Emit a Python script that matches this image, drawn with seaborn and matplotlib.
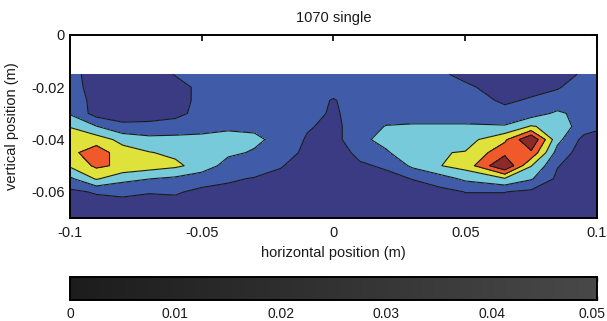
import numpy as np
import matplotlib
matplotlib.use("Agg")
import matplotlib as mpl
import matplotlib.pyplot as plt
import seaborn as sns
from matplotlib.colors import ListedColormap, BoundaryNorm, LinearSegmentedColormap, Normalize

# ---------------- data ----------------
x_pos = [-0.1, -0.09, -0.08, -0.07, -0.06, -0.05, -0.04, -0.03, -0.02, -0.01, 0.0,
         0.01, 0.02, 0.03, 0.04, 0.05, 0.065, 0.075, 0.085, 0.095, 0.1]
y_pos = [-0.015, -0.02, -0.025, -0.03, -0.035, -0.04, -0.045, -0.05, -0.055, -0.06, -0.065, -0.07]

z_015 = [1.3, 0.6, 0.5, 0.6, 1.05, 1.3, 1.3, 1.35, 1.4, 1.4, 1.4, 1.45, 1.5, 1.5, 1.1, 0.85, 0.6, 0.6, 0.7, 1.1, 1.3]
z_020 = [1.3, 0.7, 0.5, 0.5, 0.7, 1.2, 1.3, 1.35, 1.4, 1.4, 1.3, 1.4, 1.45, 1.5, 1.35, 1.1, 0.75, 0.8, 0.95, 1.3, 1.3]
z_025 = [1.35, 0.8, 0.5, 0.5, 0.7, 1.2, 1.3, 1.35, 1.4, 1.3, 0.95, 1.35, 1.45, 1.5, 1.45, 1.3, 0.9, 1.07, 1.25, 1.4, 1.35]
z_030 = [1.9, 0.6, 0.6, 0.6, 0.75, 1.3, 1.4, 1.45, 1.4, 1.25, 0.9, 1.3, 1.5, 1.6, 1.6, 1.6, 1.2, 1.5, 2.2, 1.6, 1.3]
z_035 = [2.95, 2.05, 1.2, 1.25, 1.4, 1.6, 1.8, 1.8, 1.5, 1.1, 0.75, 1.5, 2.05, 2.1, 2.1, 2.1, 2.1, 3.1, 2.6, 1.5, 1.1]
z_040 = [3.6, 3.5, 2.7, 2.3, 2.3, 2.3, 2.4, 2.2, 1.7, 0.9, 0.65, 1.7, 2.4, 2.6, 2.6, 2.6, 3.8, 6.0, 2.3, 0.7, 0.8]
z_045 = [3.7, 4.6, 3.4, 3.05, 2.8, 2.7, 2.2, 1.9, 1.5, 0.75, 0.6, 1.2, 1.85, 2.8, 2.95, 3.05, 4.7, 4.8, 1.6, 0.5, 0.6]
z_050 = [3.15, 4.2, 3.8, 3.5, 3.2, 2.6, 1.6, 1.4, 1.05, 0.65, 0.55, 0.9, 1.1, 2.2, 2.95, 3.4, 6.0, 3.05, 1.05, 0.5, 0.55]
z_055 = [1.8, 3.1, 2.3, 2.02, 1.8, 1.4, 1.1, 0.95, 0.8, 0.6, 0.5, 0.7, 0.8, 1.02, 1.5, 2.2, 2.9, 2.1, 0.8, 0.5, 0.5]
z_060 = [0.8, 1.1, 1.2, 1.05, 1.1, 0.8, 0.8, 0.8, 0.7, 0.55, 0.5, 0.6, 0.6, 0.7, 0.7, 1.02, 1.02, 0.8, 0.6, 0.45, 0.45]
z_065 = [0.5, 0.6, 0.7, 0.7, 0.7, 0.6, 0.6, 0.6, 0.6, 0.5, 0.45, 0.5, 0.5, 0.55, 0.6, 0.7, 0.7, 0.6, 0.5, 0.45, 0.4]
z_070 = [0.4, 0.4, 0.5, 0.5, 0.5, 0.5, 0.5, 0.5, 0.5, 0.45, 0.4, 0.45, 0.45, 0.45, 0.5, 0.5, 0.5, 0.5, 0.45, 0.4, 0.4]

levels = [0, 1, 2, 3, 4, 5, 7]
band_colors = ["#3b3b84", "#405ca8", "#76cada", "#dee23a", "#f05a2a", "#8c2a2a"]

x_ticks = [-0.1, -0.05, 0, 0.05, 0.1]
x_ticklabels = ["-0.1", "-0.05", "0", "0.05", "0.1"]
y_ticks = [0, -0.02, -0.04, -0.06]
y_ticklabels = ["0", "-0.02", "-0.04", "-0.06"]
cb_ticks = [0, 0.01, 0.02, 0.03, 0.04, 0.05]
cb_ticklabels = ["0", "0.01", "0.02", "0.03", "0.04", "0.05"]

# ---------------- style ----------------
sns.set_theme(style="white")
plt.rcParams["font.family"] = ["Liberation Sans", "DejaVu Sans"]
FS = 10.5
TXT = "#1a1a1a"

Z = np.array([z_015, z_020, z_025, z_030, z_035, z_040,
              z_045, z_050, z_055, z_060, z_065, z_070])
X, Y = np.meshgrid(np.array(x_pos), np.array(y_pos))

fig = plt.figure(figsize=(6.07, 3.21), dpi=100)
fig.patch.set_facecolor("white")
ax = fig.add_axes([0.1153, 0.3209, 0.8682, 0.5701])
ax.set_facecolor("white")

cmap = ListedColormap(band_colors)
norm = BoundaryNorm(levels, cmap.N)
ax.contourf(X, Y, Z, levels=levels, cmap=cmap, norm=norm)
ax.contour(X, Y, Z, levels=levels[1:-1], colors="#1a1a1a", linewidths=0.8)

ax.set_xlim(-0.1, 0.1)
ax.set_ylim(-0.07, 0)
ax.set_xticks(x_ticks)
ax.set_xticklabels(x_ticklabels)
ax.set_yticks(y_ticks)
ax.set_yticklabels(y_ticklabels)
ax.tick_params(direction="in", length=4, width=1.2, colors="black",
               top=True, right=True, labelsize=FS, labelcolor=TXT)
ax.tick_params(axis="x", pad=6)
ax.tick_params(axis="y", pad=4)
for s in ax.spines.values():
    s.set_color("black")
    s.set_linewidth(1.4)
ax.set_xlabel("horizontal position (m)", fontsize=FS, color=TXT)
ax.xaxis.set_label_coords(0.5, -0.155)
ax.set_ylabel("vertical position (m)", fontsize=FS, color=TXT)
ax.yaxis.set_label_coords(-0.097, 0.5)
ax.set_title("1070 single", fontsize=FS, pad=9, color=TXT)

# ---------------- colorbar ----------------
cax = fig.add_axes([0.1153, 0.0654, 0.8682, 0.0717])
gray_cmap = LinearSegmentedColormap.from_list("g", ["#1c1c1c", "#484848"])
cb = mpl.colorbar.ColorbarBase(cax, cmap=gray_cmap, norm=Normalize(0, 0.05),
                               orientation="horizontal")
cb.set_ticks(cb_ticks)
cb.set_ticklabels(cb_ticklabels)
cax.tick_params(direction="in", length=3, width=1.0, colors="#111111",
                top=True, bottom=True, labelsize=10, pad=5, labelcolor=TXT)
cb.outline.set_linewidth(1.4)
cb.outline.set_edgecolor("black")
# keep the last colorbar label inside the canvas
last = cax.get_xticklabels()[-1]
last.set_horizontalalignment("right")
last.set_transform(last.get_transform() +
                   mpl.transforms.ScaledTranslation(9 / 100, 0, fig.dpi_scale_trans))

fig.savefig("out.png", dpi=100, facecolor="white")
